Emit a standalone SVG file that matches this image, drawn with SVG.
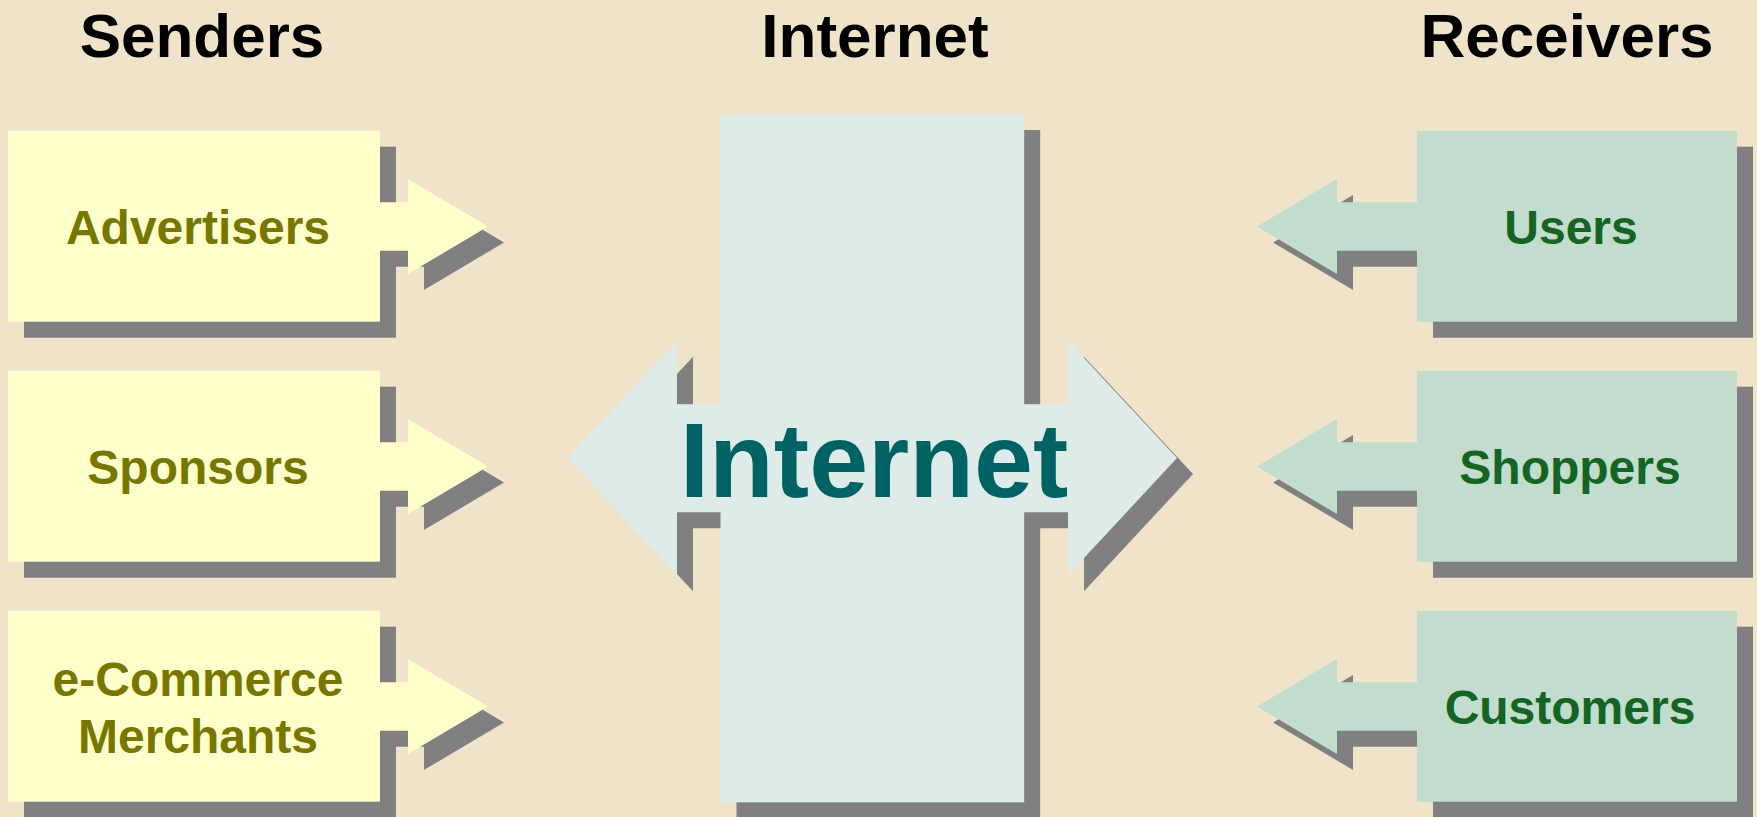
<svg xmlns="http://www.w3.org/2000/svg" xmlns:xlink="http://www.w3.org/1999/xlink" width="1757" height="817" viewBox="0 0 1757 817">
  <style>
    .bg { fill: #EFE3C9; }
    .shadow { fill: #808080; }
    .sender { fill: #FFFFCC; }
    .receiver { fill: #C2DCCD; }
    .net { fill: #DFEBE8; }
    .hdr { font-family: "Liberation Sans", Arial, sans-serif; font-weight: bold; font-size: 62px; fill: #000000; text-anchor: middle; }
    .stxt { font-family: "Liberation Sans", Arial, sans-serif; font-weight: bold; font-size: 48px; fill: #777700; text-anchor: middle; }
    .rtxt { font-family: "Liberation Sans", Arial, sans-serif; font-weight: bold; font-size: 48px; fill: #146423; text-anchor: middle; }
    .ntxt { font-family: "Liberation Sans", Arial, sans-serif; font-weight: bold; font-size: 106px; fill: #006262; text-anchor: middle; }
  </style>
  <defs>
    <path id="arrowRight" d="M0,-24.2 H28 V-47.5 L108,0 L28,47.5 V24.2 H0 Z"/>
    <path id="arrowLeft" d="M0,-24.2 H-80 V-47.5 L-160,0 L-80,47.5 V24.2 H0 Z"/>
    <rect id="senderBox" x="0" y="0" width="372" height="191"/>
    <rect id="receiverBox" x="0" y="0" width="320" height="191"/>
    <path id="dblArrow" d="M568,458 L677,340.7 V404.3 H1068 V340.7 L1177,458 L1068,575.3 V512.3 H677 V575.3 Z"/>
    <rect id="netRect" x="720.5" y="114" width="303.7" height="688.3"/>
  </defs>

  <rect class="bg" x="0" y="0" width="1757" height="817"/>

  <g id="headers">
    <text class="hdr" x="202" y="57">Senders</text>
    <text class="hdr" x="875" y="57">Internet</text>
    <text class="hdr" x="1567" y="57">Receivers</text>
  </g>

  <g id="shadows">
    <use xlink:href="#senderBox" x="24" y="146.7" class="shadow"/>
    <use xlink:href="#senderBox" x="24" y="386.7" class="shadow"/>
    <use xlink:href="#senderBox" x="24" y="626.7" class="shadow"/>
    <use xlink:href="#arrowRight" x="396" y="242.5" class="shadow"/>
    <use xlink:href="#arrowRight" x="396" y="482.5" class="shadow"/>
    <use xlink:href="#arrowRight" x="396" y="722.5" class="shadow"/>
    <use xlink:href="#receiverBox" x="1433" y="146.7" class="shadow"/>
    <use xlink:href="#receiverBox" x="1433" y="386.7" class="shadow"/>
    <use xlink:href="#receiverBox" x="1433" y="626.7" class="shadow"/>
    <use xlink:href="#arrowLeft" x="1433" y="242.5" class="shadow"/>
    <use xlink:href="#arrowLeft" x="1433" y="482.5" class="shadow"/>
    <use xlink:href="#arrowLeft" x="1433" y="722.5" class="shadow"/>
    <use xlink:href="#netRect" x="16" y="16" class="shadow"/>
    <use xlink:href="#dblArrow" x="16" y="16" class="shadow"/>
  </g>

  <g id="connectors">
    <use xlink:href="#arrowRight" x="380" y="226.5" class="sender"/>
    <use xlink:href="#arrowRight" x="380" y="466.5" class="sender"/>
    <use xlink:href="#arrowRight" x="380" y="706.5" class="sender"/>
    <use xlink:href="#arrowLeft" x="1417" y="226.5" class="receiver"/>
    <use xlink:href="#arrowLeft" x="1417" y="466.5" class="receiver"/>
    <use xlink:href="#arrowLeft" x="1417" y="706.5" class="receiver"/>
    <use xlink:href="#dblArrow" class="net"/>
  </g>

  <g id="advertisers">
    <use xlink:href="#senderBox" x="8" y="130.7" class="sender"/>
    <text class="stxt" x="198" y="244">Advertisers</text>
  </g>
  <g id="sponsors">
    <use xlink:href="#senderBox" x="8" y="370.7" class="sender"/>
    <text class="stxt" x="198" y="484">Sponsors</text>
  </g>
  <g id="merchants">
    <use xlink:href="#senderBox" x="8" y="610.7" class="sender"/>
    <text class="stxt" x="198" y="696">e-Commerce</text>
    <text class="stxt" x="198" y="752.7">Merchants</text>
  </g>

  <g id="internet">
    <use xlink:href="#netRect" class="net"/>
    <text class="ntxt" x="874" y="497">Internet</text>
  </g>

  <g id="users">
    <use xlink:href="#receiverBox" x="1417" y="130.7" class="receiver"/>
    <text class="rtxt" x="1571" y="244">Users</text>
  </g>
  <g id="shoppers">
    <use xlink:href="#receiverBox" x="1417" y="370.7" class="receiver"/>
    <text class="rtxt" x="1570" y="484">Shoppers</text>
  </g>
  <g id="customers">
    <use xlink:href="#receiverBox" x="1417" y="610.7" class="receiver"/>
    <text class="rtxt" x="1570" y="724">Customers</text>
  </g>
</svg>
